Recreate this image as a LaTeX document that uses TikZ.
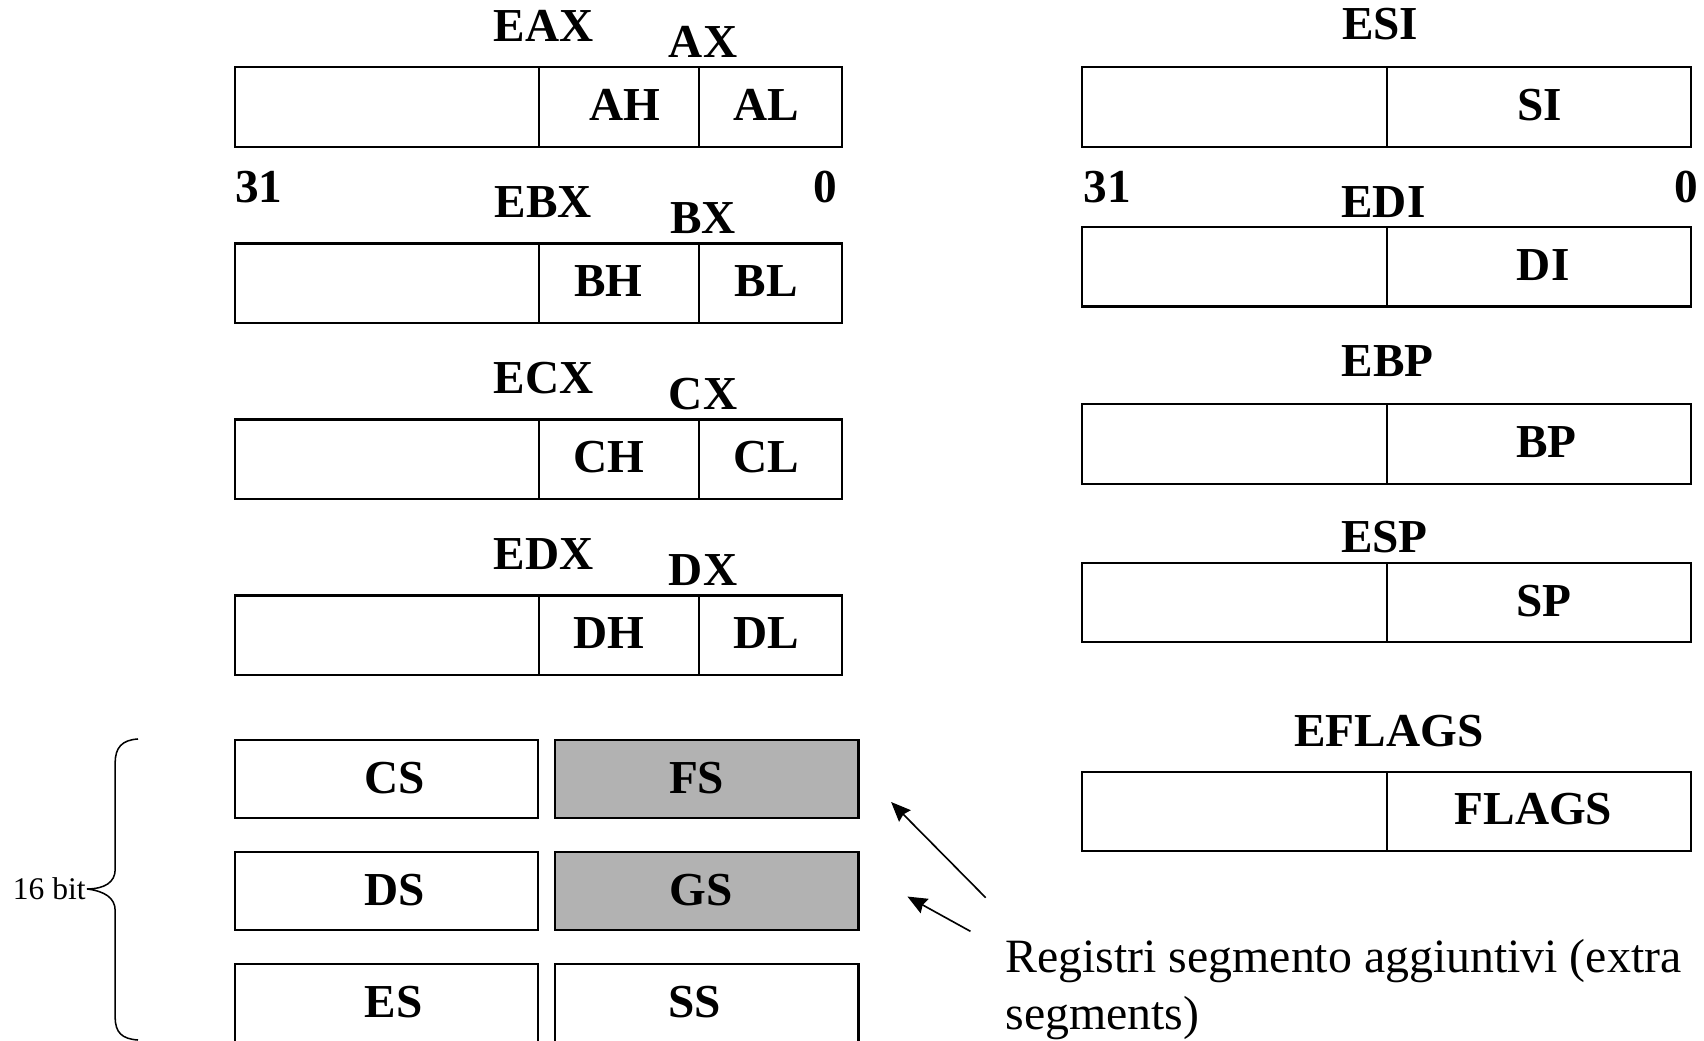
\documentclass[tikz,border=0pt]{standalone}
\usepackage{fontspec}
\setmainfont{Liberation Serif}
\usetikzlibrary{arrows.meta}
\definecolor{seggray}{HTML}{B2B2B2}
\begin{document}
\begin{tikzpicture}[x=1pt,y=-1pt,
  cell/.style={draw, line width=2pt, rectangle, inner sep=0pt, anchor=north west},
  lbl/.style={font=\fontsize{43.5}{50}\selectfont\bfseries, anchor=base, inner sep=0pt},
  note/.style={font=\fontsize{44}{52}\selectfont, anchor=base west, inner sep=0pt, align=left},
  small/.style={font=\fontsize{29}{34}\selectfont, anchor=east, inner sep=1pt},
  pointer/.style={line width=1.5pt, -{Stealth[length=18pt,width=15pt,inset=2pt]}}]
\useasboundingbox (0,0) rectangle (1568,957);

% general purpose registers (32 bit with 16/8 bit halves)
\foreach \n/\T/\E/\X/\H/\L/\hx in {a/61/EAX/AX/AH/AL/575, b/223/EBX/BX/BH/BL/560,
    c/385/ECX/CX/CH/CL/560, d/547/EDX/DX/DH/DL/560} {
  \node[cell, minimum width=280, minimum height=73] (\n-hi) at (215,\T) {};
  \node[cell, minimum width=147, minimum height=73] (\n-h) at (495,\T) {};
  \node[cell, minimum width=132, minimum height=73] (\n-l) at (642,\T) {};
  \node[lbl] (\n-e) at (500,\T-23) {\E};
  \node[lbl] (\n-x) at (647,\T-8) {\X};
  \node[lbl] (\n-ht) at (\hx,\T+50) {\H};
  \node[lbl] (\n-lt) at (705,\T+50) {\L};
}
\node[lbl] (lbit31) at (238,186) {31};
\node[lbl] (lbit0) at (759,186) {0};

% index, pointer and flag registers
\foreach \n/\T/\E/\eb/\I/\ex/\ix in {si/61/ESI/36/SI/1270/1417, di/208/EDI/200/DI/1273/1420,
    bp/371/EBP/346/BP/1277/1423, sp/517/ESP/508/SP/1274/1421, fl/709/EFLAGS/687/FLAGS/1278/1411} {
  \node[cell, minimum width=280, minimum height=73] (\n-hi) at (995,\T) {};
  \node[cell, minimum width=280, minimum height=73] (\n-lo) at (1275,\T) {};
  \node[lbl] (\n-e) at (\ex,\eb) {\E};
  \node[lbl] (\n-i) at (\ix,\T+50) {\I};
}
\node[lbl] (rbit31) at (1019,186) {31};
\node[lbl] (rbit0) at (1552,186) {0};

% segment registers
\foreach \a/\ax/\T in {CS/363/680, DS/363/783, ES/362/886} {
  \node[cell, minimum width=279, minimum height=72] (\a-box) at (215,\T) {};
  \node[lbl] (\a-t) at (\ax,\T+50) {\a};
}
\node[cell, fill=seggray, minimum width=279, minimum height=72] (FS-box) at (510,680) {};
\node[cell, fill=seggray, minimum width=279, minimum height=72] (GS-box) at (510,783) {};
\node[cell, minimum width=279, minimum height=72] (SS-box) at (510,886) {};
\node[lbl] (FS-t) at (641,730) {FS};
\node[lbl] (GS-t) at (645,833) {GS};
\node[lbl] (SS-t) at (639,936) {SS};

% brace spanning the segment registers
\node[small] (width) at (80,818) {16 bit};
\draw[line width=1.4pt] (127,680) .. controls (112,681) and (106,688) .. (106,702)
  -- (106,800) .. controls (106,812) and (96,818) .. (width.east)
  .. controls (96,820) and (106,826) .. (106,838)
  -- (106,936) .. controls (106,950) and (112,956) .. (127,957);

% extra segment note
\node[note] (extra) at (925,947) {Registri segmento aggiuntivi (extra\\segments)};
\coordinate (p1s) at (907,826);
\coordinate (p1e) at (820,738);
\coordinate (p2s) at (893,857);
\coordinate (p2e) at (835,825);
\draw[pointer] (p1s) -- (p1e);
\draw[pointer] (p2s) -- (p2e);
\end{tikzpicture}
\end{document}
